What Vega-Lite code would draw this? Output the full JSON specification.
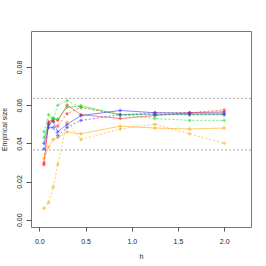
{
  "$schema": "https://vega.github.io/schema/vega-lite/v6.json",
  "width": 220,
  "height": 196,
  "autosize": "none",
  "padding": {"left": 31, "top": 31, "right": 15, "bottom": 39},
  "config": {
    "view": {"stroke": "#777", "strokeWidth": 1},
    "font": "Liberation Sans",
    "axis": {"grid": false, "domain": false, "tickColor": "#555", "tickSize": 4, "labelFontSize": 7, "titleFontSize": 7, "titleFontWeight": "normal", "labelColor": "#222", "titleColor": "#222", "labelFont": "Liberation Sans", "titleFont": "Liberation Sans"}
  },
  "datasets": {
    "d": [
      {"h":0.05,"v":0.0288,"col":"red","lty":"solid"},
      {"h":0.1,"v":0.0506,"col":"red","lty":"solid"},
      {"h":0.15,"v":0.053,"col":"red","lty":"solid"},
      {"h":0.2,"v":0.052,"col":"red","lty":"solid"},
      {"h":0.3,"v":0.060,"col":"red","lty":"solid"},
      {"h":0.45,"v":0.055,"col":"red","lty":"solid"},
      {"h":0.875,"v":0.053,"col":"red","lty":"solid"},
      {"h":1.25,"v":0.0545,"col":"red","lty":"solid"},
      {"h":1.625,"v":0.056,"col":"red","lty":"solid"},
      {"h":2.0,"v":0.0565,"col":"red","lty":"solid"},

      {"h":0.05,"v":0.0297,"col":"red","lty":"dotted"},
      {"h":0.1,"v":0.0515,"col":"red","lty":"dotted"},
      {"h":0.15,"v":0.052,"col":"red","lty":"dotted"},
      {"h":0.2,"v":0.049,"col":"red","lty":"dotted"},
      {"h":0.3,"v":0.0555,"col":"red","lty":"dotted"},
      {"h":0.45,"v":0.0588,"col":"red","lty":"dotted"},
      {"h":0.875,"v":0.055,"col":"red","lty":"dotted"},
      {"h":1.25,"v":0.056,"col":"red","lty":"dotted"},
      {"h":1.625,"v":0.056,"col":"red","lty":"dotted"},
      {"h":2.0,"v":0.0575,"col":"red","lty":"dotted"},

      {"h":0.05,"v":0.043,"col":"green","lty":"solid"},
      {"h":0.1,"v":0.050,"col":"green","lty":"solid"},
      {"h":0.15,"v":0.053,"col":"green","lty":"solid"},
      {"h":0.2,"v":0.0527,"col":"green","lty":"solid"},
      {"h":0.3,"v":0.0588,"col":"green","lty":"solid"},
      {"h":0.45,"v":0.0597,"col":"green","lty":"solid"},
      {"h":0.875,"v":0.055,"col":"green","lty":"solid"},
      {"h":1.25,"v":0.0553,"col":"green","lty":"solid"},
      {"h":1.625,"v":0.055,"col":"green","lty":"solid"},
      {"h":2.0,"v":0.055,"col":"green","lty":"solid"},

      {"h":0.05,"v":0.046,"col":"green","lty":"dotted"},
      {"h":0.1,"v":0.055,"col":"green","lty":"dotted"},
      {"h":0.15,"v":0.053,"col":"green","lty":"dotted"},
      {"h":0.2,"v":0.060,"col":"green","lty":"dotted"},
      {"h":0.3,"v":0.0623,"col":"green","lty":"dotted"},
      {"h":0.45,"v":0.0588,"col":"green","lty":"dotted"},
      {"h":0.875,"v":0.055,"col":"green","lty":"dotted"},
      {"h":1.25,"v":0.053,"col":"green","lty":"dotted"},
      {"h":1.625,"v":0.052,"col":"green","lty":"dotted"},
      {"h":2.0,"v":0.052,"col":"green","lty":"dotted"},

      {"h":0.05,"v":0.040,"col":"blue","lty":"solid"},
      {"h":0.1,"v":0.0497,"col":"blue","lty":"solid"},
      {"h":0.15,"v":0.0515,"col":"blue","lty":"solid"},
      {"h":0.2,"v":0.046,"col":"blue","lty":"solid"},
      {"h":0.3,"v":0.050,"col":"blue","lty":"solid"},
      {"h":0.45,"v":0.0545,"col":"blue","lty":"solid"},
      {"h":0.875,"v":0.0572,"col":"blue","lty":"solid"},
      {"h":1.25,"v":0.056,"col":"blue","lty":"solid"},
      {"h":1.625,"v":0.0558,"col":"blue","lty":"solid"},
      {"h":2.0,"v":0.0558,"col":"blue","lty":"solid"},

      {"h":0.05,"v":0.037,"col":"blue","lty":"dotted"},
      {"h":0.1,"v":0.0483,"col":"blue","lty":"dotted"},
      {"h":0.15,"v":0.0483,"col":"blue","lty":"dotted"},
      {"h":0.2,"v":0.044,"col":"blue","lty":"dotted"},
      {"h":0.3,"v":0.0483,"col":"blue","lty":"dotted"},
      {"h":0.45,"v":0.052,"col":"blue","lty":"dotted"},
      {"h":0.875,"v":0.055,"col":"blue","lty":"dotted"},
      {"h":1.25,"v":0.055,"col":"blue","lty":"dotted"},
      {"h":1.625,"v":0.055,"col":"blue","lty":"dotted"},
      {"h":2.0,"v":0.055,"col":"blue","lty":"dotted"},

      {"h":0.05,"v":0.032,"col":"orange","lty":"solid"},
      {"h":0.1,"v":0.038,"col":"orange","lty":"solid"},
      {"h":0.15,"v":0.042,"col":"orange","lty":"solid"},
      {"h":0.2,"v":0.043,"col":"orange","lty":"solid"},
      {"h":0.3,"v":0.046,"col":"orange","lty":"solid"},
      {"h":0.45,"v":0.045,"col":"orange","lty":"solid"},
      {"h":0.875,"v":0.049,"col":"orange","lty":"solid"},
      {"h":1.25,"v":0.048,"col":"orange","lty":"solid"},
      {"h":1.625,"v":0.0475,"col":"orange","lty":"solid"},
      {"h":2.0,"v":0.048,"col":"orange","lty":"solid"},

      {"h":0.05,"v":0.006,"col":"orange","lty":"dotted"},
      {"h":0.1,"v":0.009,"col":"orange","lty":"dotted"},
      {"h":0.15,"v":0.017,"col":"orange","lty":"dotted"},
      {"h":0.2,"v":0.029,"col":"orange","lty":"dotted"},
      {"h":0.3,"v":0.051,"col":"orange","lty":"dotted"},
      {"h":0.45,"v":0.042,"col":"orange","lty":"dotted"},
      {"h":0.875,"v":0.0475,"col":"orange","lty":"dotted"},
      {"h":1.25,"v":0.050,"col":"orange","lty":"dotted"},
      {"h":1.625,"v":0.045,"col":"orange","lty":"dotted"},
      {"h":2.0,"v":0.040,"col":"orange","lty":"dotted"}
    ],
    "ref": [{"y": 0.0365}, {"y": 0.0635}]
  },
  "layer": [
    {
      "data": {"name": "ref"},
      "mark": {"type": "rule", "color": "#999", "strokeDash": [2, 2], "strokeWidth": 0.8},
      "encoding": {"y": {"field": "y", "type": "quantitative", "scale": {"domain": [-0.0038, 0.0988], "nice": false, "zero": false}}}
    },
    {
      "data": {"name": "d"},
      "mark": {"type": "line", "strokeWidth": 1, "opacity": 0.6},
      "encoding": {
        "x": {"field": "h", "type": "quantitative", "scale": {"domain": [-0.09, 2.29], "nice": false, "zero": false}, "axis": {"values": [0, 0.5, 1, 1.5, 2], "format": ".1f", "title": "h", "labelPadding": 6, "titlePadding": 8}},
        "y": {"field": "v", "type": "quantitative", "scale": {"domain": [-0.0038, 0.0988], "nice": false, "zero": false}, "axis": {"values": [0, 0.02, 0.04, 0.06, 0.08], "format": ".2f", "title": "Empirical size", "tickSize": 5, "labelAngle": -90, "labelAlign": "center", "labelBaseline": "bottom", "labelPadding": 4, "titlePadding": 8}},
        "color": {"field": "col", "type": "nominal", "scale": {"domain": ["red", "green", "blue", "orange"], "range": ["#ff2020", "#20dd20", "#3030ff", "#ffa500"]}, "legend": null},
        "strokeDash": {"field": "lty", "type": "nominal", "scale": {"domain": ["solid", "dotted"], "range": [[1, 0], [2, 2]]}, "legend": null},
        "detail": {"field": "lty"}
      }
    },
    {
      "data": {"name": "d"},
      "mark": {"type": "point", "shape": "cross", "size": 12, "filled": true, "opacity": 0.6},
      "encoding": {
        "x": {"field": "h", "type": "quantitative"},
        "y": {"field": "v", "type": "quantitative"},
        "color": {"field": "col", "type": "nominal", "legend": null}
      }
    }
  ]
}
